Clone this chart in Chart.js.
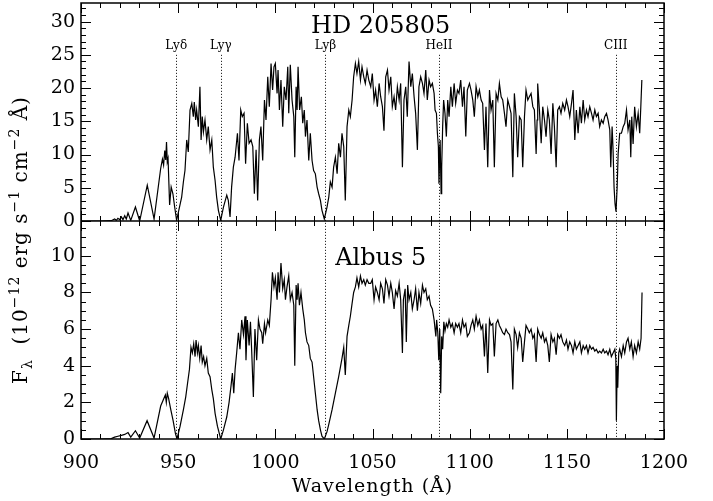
<!DOCTYPE html>
<html>
<head>
<meta charset="utf-8">
<script src="https://cdn.jsdelivr.net/npm/chart.js@4.4.0/dist/chart.umd.min.js"></script>
<style>
  html, body { margin: 0; padding: 0; background: #fff; }
  #wrap { width: 713px; height: 501px; }
</style>
</head>
<body>
<div id="wrap"><canvas id="spec" width="713" height="501"></canvas></div>
<script>
// HD 205805 spectrum, wavelength (A) and flux (1e-12 erg/s/cm2/A)
const hdWave = [
  900, 905, 910, 915.6, 917.3, 918.2, 919.0, 919.9, 920.8, 921.6,
  922.5, 923.3, 924.2, 925.6, 928.0, 930.2, 934.1, 937.6, 941.0, 941.9,
  942.5, 943.1, 943.6, 944.0, 944.4, 944.8, 945.6, 946.4, 947.3, 948.2,
  949.2, 951.8, 952.7, 953.5, 954.4, 955.2, 956.1, 957.0, 957.8, 958.3,
  959.0, 959.5, 960.4, 961.2, 961.8, 962.4, 963.0, 963.8, 964.7, 965.5,
  966.4, 967.3, 968.1, 969.0, 969.8, 970.7, 971.9, 973.3, 975.0, 975.8,
  976.7, 977.5, 978.4, 979.3, 980.5, 981.3, 982.2, 983.0, 983.9, 984.7,
  985.6, 986.5, 987.5, 988.4, 989.2, 990.1, 990.9, 991.8, 992.6, 993.5,
  994.4, 995.2, 996.1, 996.9, 997.8, 998.6, 999.3, 1000.0, 1000.9, 1001.4,
  1002.1, 1002.9, 1003.8, 1004.6, 1005.5, 1006.4, 1006.9, 1007.7, 1008.6, 1009.5,
  1010.0, 1010.7, 1011.2, 1011.7, 1012.5, 1013.4, 1014.1, 1014.9, 1015.5, 1016.3,
  1017.2, 1018.0, 1018.9, 1019.7, 1020.6, 1021.5, 1022.3, 1023.2, 1024.0, 1025.2,
  1026.6, 1027.5, 1028.3, 1029.2, 1030.0, 1030.9, 1031.8, 1032.6, 1033.5, 1034.3,
  1035.2, 1036.0, 1036.9, 1037.8, 1038.6, 1039.5, 1040.3, 1041.2, 1042.0, 1042.9,
  1043.8, 1044.6, 1045.5, 1046.3, 1047.2, 1048.1, 1049.1, 1049.9, 1050.8, 1051.6,
  1052.5, 1053.4, 1054.2, 1055.1, 1055.9, 1056.8, 1057.7, 1058.5, 1059.4, 1060.2,
  1061.1, 1061.9, 1062.8, 1063.7, 1064.5, 1065.4, 1066.2, 1067.1, 1067.9, 1068.8,
  1069.7, 1070.5, 1071.4, 1072.2, 1073.1, 1073.9, 1074.8, 1075.7, 1076.5, 1077.4,
  1078.2, 1079.1, 1079.9, 1080.8, 1081.7, 1082.2, 1082.9, 1083.4, 1083.9, 1084.2,
  1084.8, 1085.3, 1085.6, 1086.1, 1086.6, 1087.3, 1088.0, 1088.7, 1089.4, 1090.3,
  1091.1, 1092.0, 1092.8, 1093.7, 1094.5, 1095.4, 1096.3, 1097.1, 1098.0, 1098.8,
  1099.9, 1100.7, 1101.6, 1102.4, 1103.3, 1104.2, 1105.0, 1105.9, 1106.7, 1107.6,
  1108.4, 1109.3, 1110.2, 1111.0, 1111.9, 1112.7, 1113.6, 1114.5, 1115.3, 1116.2,
  1117.0, 1117.9, 1118.7, 1119.6, 1120.5, 1121.3, 1122.2, 1123.0, 1123.9, 1124.7,
  1125.6, 1126.5, 1127.3, 1128.2, 1129.0, 1129.9, 1130.7, 1131.6, 1132.5, 1133.3,
  1134.2, 1134.7, 1135.0, 1135.9, 1136.8, 1137.6, 1138.5, 1139.3, 1140.2, 1141.0,
  1141.9, 1142.8, 1143.6, 1144.5, 1145.3, 1146.2, 1147.0, 1147.9, 1148.9, 1149.8,
  1150.6, 1151.5, 1152.4, 1153.2, 1154.1, 1154.9, 1155.8, 1156.7, 1157.5, 1158.4,
  1159.2, 1160.1, 1160.9, 1161.8, 1162.7, 1163.5, 1164.4, 1165.2, 1166.1, 1166.9,
  1167.8, 1168.7, 1169.5, 1170.4, 1171.2, 1172.1, 1172.6, 1173.3, 1173.8, 1174.3,
  1174.8, 1175.3, 1175.9, 1176.4, 1177.2, 1178.1, 1179.0, 1179.8, 1180.7, 1181.5,
  1182.4, 1182.9, 1183.4, 1184.1, 1184.9, 1185.8, 1186.7, 1187.5, 1188.0, 1188.6
];
const hdFlux = [
  0, 0, 0, 0.05, 0.3, 0.1, 0.4, 0.2, 0.6, 0.2,
  0.8, 0.3, 1.2, 0.1, 2.1, 0, 5.4, 0.3, 7.9, 9.3,
  8.4, 10.6, 9.2, 11.9, 8.9, 9.4, 2.4, 5.1, 4.1, 2.1,
  0.1, 3.6, 5.9, 7.6, 12.2, 10.4, 16.7, 17.7, 15.7, 17.9,
  15.2, 16.7, 14.2, 20.2, 12.2, 15.7, 13.4, 15.2, 12.2, 14.2,
  10.7, 12.2, 8.1, 6.1, 3.6, 1.6, 0.1, 2.1, 3.9, 3.1,
  0.6, 5.1, 8.1, 9.6, 13.2, 9.1, 16.7, 15.7, 16.2, 8.6,
  14.7, 11.7, 12.2, 11.2, 4.1, 10.7, 3.1, 12.2, 14.2, 9.1,
  18.2, 15.2, 21.7, 17.2, 23.7, 19.7, 23.2, 23.7, 19.2, 22.7,
  16.7, 21.2, 14.2, 20.2, 18.2, 23.2, 16.2, 23.5, 18.2, 15.7,
  9.6, 20.2, 16.7, 23.2, 16.7, 18.7, 14.7, 16.7, 12.7, 15.2,
  9.1, 13.2, 9.1, 7.6, 7.1, 5.1, 4.1, 3.1, 1.6, 0.3,
  2.1, 3.6, 5.9, 5.1, 8.1, 9.6, 7.1, 11.7, 9.6, 13.2,
  11.2, 3.1, 14.2, 16.7, 15.7, 18.2, 21.7, 23.7, 22.2, 24.0,
  21.2, 23.2, 21.7, 20.7, 22.7, 21.2, 20.2, 22.2, 18.2, 19.7,
  17.2, 20.7, 18.7, 17.2, 13.6, 21.7, 22.7, 19.7, 21.7, 17.2,
  18.7, 16.7, 20.2, 18.2, 20.7, 8.1, 18.2, 20.2, 15.7, 24.0,
  20.2, 22.2, 18.7, 16.2, 10.7, 20.2, 21.7, 20.7, 19.2, 22.7,
  18.2, 21.2, 20.2, 20.7, 19.2, 16.7, 16.2, 13.2, 11.2, 5.6,
  12.2, 4.1, 8.1, 14.2, 18.2, 16.2, 12.7, 18.2, 15.7, 20.2,
  17.2, 20.7, 17.7, 19.7, 19.2, 21.2, 17.2, 20.2, 12.7, 19.7,
  20.7, 19.7, 18.2, 15.7, 20.2, 18.7, 19.7, 18.2, 17.7, 10.7,
  17.2, 8.1, 19.7, 16.7, 18.2, 8.1, 19.2, 18.2, 20.7, 18.7,
  18.2, 16.2, 14.2, 18.2, 17.2, 16.2, 6.6, 19.2, 15.7, 9.6,
  15.7, 15.2, 8.1, 15.7, 19.7, 18.2, 18.7, 19.2, 17.2, 16.7,
  10.1, 15.2, 20.7, 16.7, 11.7, 17.2, 15.2, 12.7, 16.7, 15.2,
  10.1, 17.7, 14.2, 8.1, 16.7, 17.2, 16.2, 17.7, 16.7, 18.2,
  17.2, 15.7, 17.7, 19.7, 12.2, 16.7, 13.2, 17.2, 14.7, 18.2,
  15.2, 16.7, 15.7, 17.2, 16.2, 15.2, 16.7, 15.7, 16.2, 14.2,
  15.2, 14.7, 15.7, 16.2, 15.2, 13.7, 8.1, 14.2, 10.6, 5.1,
  2.6, 1.4, 5.1, 10.1, 13.2, 13.2, 14.2, 14.7, 16.7, 13.7,
  15.2, 9.6, 15.7, 11.6, 17.2, 14.2, 16.2, 13.2, 16.7, 21.2
];

// Albus 5 spectrum
const alWave = [
  900, 905, 910, 915.6, 917.3, 919.0, 920.8, 922.5, 924.2, 925.6,
  928.0, 930.2, 934.0, 937.6, 941.0, 942.2, 943.4, 943.9, 944.4, 945.1,
  946.2, 947.4, 948.6, 949.4, 951.0, 952.7, 953.9, 954.9, 955.8, 956.6,
  957.3, 958.0, 958.7, 959.2, 959.9, 960.4, 961.1, 961.8, 962.4, 963.1,
  963.8, 964.7, 965.5, 966.4, 967.3, 968.1, 969.0, 970.2, 971.9, 973.3,
  975.0, 976.2, 977.2, 977.9, 978.6, 979.3, 980.1, 981.0, 981.8, 982.7,
  983.6, 984.4, 984.9, 985.6, 986.5, 987.2, 987.8, 988.7, 989.5, 990.4,
  991.3, 992.1, 993.0, 993.5, 994.4, 995.0, 996.1, 996.9, 997.8, 998.5,
  999.3, 1000.0, 1000.9, 1001.4, 1002.1, 1002.9, 1003.8, 1004.6, 1005.2, 1006.0,
  1006.9, 1007.7, 1008.6, 1009.5, 1010.0, 1010.7, 1011.2, 1011.7, 1012.4, 1013.2,
  1014.1, 1014.9, 1015.5, 1016.3, 1017.2, 1018.0, 1018.9, 1019.7, 1020.6, 1021.5,
  1022.3, 1023.2, 1024.0, 1025.2, 1026.6, 1027.5, 1029.2, 1030.9, 1032.6, 1034.3,
  1035.2, 1036.0, 1036.9, 1037.8, 1038.6, 1039.5, 1040.3, 1041.2, 1042.0, 1042.9,
  1043.8, 1044.6, 1045.5, 1046.3, 1047.2, 1048.1, 1049.1, 1049.9, 1050.8, 1051.6,
  1052.5, 1053.4, 1054.2, 1055.1, 1055.9, 1056.8, 1057.7, 1058.5, 1059.4, 1060.2,
  1061.1, 1061.9, 1062.8, 1063.7, 1064.5, 1065.4, 1065.9, 1066.8, 1067.4, 1068.1,
  1068.8, 1069.7, 1070.5, 1071.4, 1072.2, 1073.1, 1073.9, 1074.8, 1075.7, 1076.5,
  1077.4, 1078.2, 1079.1, 1079.9, 1080.8, 1081.7, 1082.6, 1083.0, 1083.6, 1084.1,
  1084.6, 1085.1, 1085.6, 1086.1, 1086.7, 1087.3, 1088.0, 1088.7, 1089.4, 1090.3,
  1091.1, 1092.0, 1092.8, 1093.7, 1094.5, 1095.4, 1096.3, 1097.1, 1098.0, 1098.8,
  1099.9, 1100.7, 1101.6, 1102.4, 1103.3, 1104.2, 1105.0, 1105.9, 1106.7, 1107.6,
  1108.4, 1109.3, 1110.2, 1111.0, 1111.9, 1112.7, 1113.6, 1114.5, 1115.3, 1116.2,
  1117.0, 1117.9, 1118.7, 1119.6, 1120.5, 1121.3, 1122.2, 1123.0, 1123.9, 1124.7,
  1125.6, 1126.5, 1127.3, 1128.2, 1129.0, 1129.9, 1130.7, 1131.6, 1132.5, 1133.3,
  1134.2, 1135.0, 1135.9, 1136.8, 1137.6, 1138.5, 1139.3, 1140.2, 1141.0, 1141.9,
  1142.8, 1143.6, 1144.5, 1145.3, 1146.2, 1147.0, 1147.9, 1148.9, 1149.8, 1150.6,
  1151.5, 1152.4, 1153.2, 1154.1, 1154.9, 1155.8, 1156.7, 1157.5, 1158.4, 1159.2,
  1160.1, 1160.9, 1161.8, 1162.7, 1163.5, 1164.4, 1165.2, 1166.1, 1166.9, 1167.8,
  1168.7, 1169.5, 1170.4, 1171.2, 1172.1, 1172.9, 1173.8, 1174.7, 1175.2, 1175.5,
  1175.9, 1176.2, 1176.7, 1177.2, 1178.1, 1179.0, 1179.8, 1180.7, 1181.5, 1182.4,
  1183.2, 1184.1, 1184.9, 1185.8, 1186.7, 1187.5, 1188.2, 1188.7
];
const alFlux = [
  0, 0, 0, 0.02, 0.1, 0.15, 0.2, 0.25, 0.35, 0.1,
  0.45, 0.05, 1.0, 0.05, 1.8, 2.1, 2.4, 2.0, 2.5, 2.2,
  1.6, 1.0, 0.3, 0, 0.7, 1.6, 2.3, 3.1, 3.8, 5.0,
  4.7, 5.2, 4.5, 5.4, 4.7, 5.1, 4.4, 5.1, 4.2, 4.5,
  4.0, 4.4, 3.6, 3.4, 2.7, 2.2, 1.4, 0.7, 0, 0.5,
  1.2, 2.0, 2.9, 3.6, 2.5, 3.8, 4.7, 5.8, 4.9, 6.5,
  5.7, 6.7, 4.3, 6.5, 5.1, 6.4, 4.9, 2.3, 6.0, 4.3,
  6.5, 6.0, 5.8, 5.2, 6.3, 5.8, 6.5, 6.2, 7.6, 9.1,
  8.3, 8.8, 7.6, 9.1, 8.0, 9.6, 8.2, 8.7, 7.6, 8.3,
  8.9, 7.6, 8.0, 7.3, 4.0, 8.4, 7.6, 8.5, 7.3, 8.0,
  7.1, 6.5, 5.8, 5.3, 5.1, 4.4, 4.2, 3.4, 2.5, 1.6,
  1.0, 0.5, 0.15, 0, 0.4, 0.8, 1.6, 2.5, 3.4, 4.4,
  5.0, 3.5, 5.6, 6.2, 6.7, 7.4, 8.0, 8.3, 8.8, 8.3,
  8.9, 8.5, 8.7, 8.4, 8.7, 8.5, 8.5, 8.7, 7.6, 8.3,
  8.0, 7.6, 8.5, 8.2, 7.4, 8.7, 8.4, 7.8, 8.5, 8.0,
  7.1, 8.1, 7.8, 8.5, 7.6, 4.7, 7.6, 8.2, 5.3, 8.4,
  7.6, 8.0, 7.1, 7.6, 8.2, 7.0, 8.0, 7.4, 8.4, 8.0,
  8.2, 7.6, 7.8, 7.3, 7.1, 6.5, 5.6, 6.5, 5.8, 4.3,
  6.0, 2.5, 5.6, 4.9, 6.4, 5.9, 6.3, 6.1, 6.5, 6.1,
  6.3, 5.8, 6.3, 6.1, 6.3, 5.8, 6.5, 6.1, 6.3, 5.6,
  5.8, 6.2, 6.5, 6.0, 6.7, 6.2, 6.5, 6.0, 6.2, 4.5,
  6.3, 3.6, 6.5, 6.2, 6.3, 4.5, 6.3, 6.5, 6.2, 6.0,
  5.8, 5.7, 6.0, 5.8, 5.7, 5.3, 2.7, 6.0, 5.7, 5.0,
  5.8, 5.5, 4.2, 5.3, 6.2, 6.0, 5.8, 6.0, 5.5, 5.7,
  4.2, 6.0, 5.7, 5.5, 5.8, 5.3, 5.5, 5.1, 4.2, 5.7,
  5.3, 5.5, 4.6, 5.7, 5.5, 5.7, 5.3, 5.1, 5.4, 4.9,
  5.3, 5.1, 4.7, 5.3, 4.9, 5.1, 5.3, 4.7, 5.1, 4.9,
  5.1, 4.7, 5.1, 4.9, 5.0, 4.8, 4.9, 4.7, 4.8, 4.7,
  4.9, 4.7, 4.8, 4.6, 4.9, 4.5, 4.7, 4.9, 4.4, 1.0,
  4.0, 2.8, 4.7, 4.9, 4.5, 5.1, 4.7, 5.3, 5.5, 4.9,
  5.3, 4.5, 5.1, 4.7, 5.3, 4.9, 5.5, 8.0
];

const xTicks = [900, 950, 1000, 1050, 1100, 1150, 1200];
const topTicks = [0, 5, 10, 15, 20, 25, 30];
const botTicks = [0, 2, 4, 6, 8, 10];
const lineNames = ['Ly\u03B4', 'Ly\u03B3', 'Ly\u03B2', 'HeII', 'CIII'];
const lineWave = [949.0, 972.0, 1025.8, 1084.2, 1175.2];

console.assert(hdWave.length === hdFlux.length, 'hd lengths', hdWave.length, hdFlux.length);
console.assert(alWave.length === alFlux.length, 'albus lengths', alWave.length, alFlux.length);

const FONT = 'DejaVu Serif';

function toXY(w, f) {
  return w.map((x, i) => ({ x: x, y: f[i] }));
}

function range(a, b, step) {
  const out = [];
  for (let v = a; v <= b + 1e-9; v += step) out.push(+v.toFixed(3));
  return out;
}

// IDL-like frame: inward ticks on all sides, dotted line markers, labels
const idlFrame = {
  id: 'idlFrame',
  beforeDatasetsDraw(chart) {
    const c = chart.ctx, a = chart.chartArea;
    const x = chart.scales.x, yT = chart.scales.yTop;
    c.save();
    c.strokeStyle = '#000';
    c.lineWidth = 1;
    c.setLineDash([1, 2]);
    lineWave.forEach(w => {
      const px = Math.round(x.getPixelForValue(w)) + 0.5;
      c.beginPath();
      c.moveTo(px, yT.getPixelForValue(25));
      c.lineTo(px, a.bottom);
      c.stroke();
    });
    c.restore();
  },
  afterDraw(chart) {
    const c = chart.ctx, a = chart.chartArea;
    const x = chart.scales.x, yT = chart.scales.yTop, yB = chart.scales.yBot;
    const mid = yT.bottom;
    c.save();
    c.strokeStyle = '#000';
    c.lineWidth = 1.5;
    c.strokeRect(a.left, a.top, a.right - a.left, a.bottom - a.top);
    c.beginPath();
    c.moveTo(a.left, mid);
    c.lineTo(a.right, mid);
    c.stroke();

    c.lineWidth = 1;
    c.beginPath();
    // x ticks on top, middle (both panels) and bottom
    range(900, 1200, 10).forEach(v => {
      const len = xTicks.includes(v) ? 10 : 5;
      const px = Math.round(x.getPixelForValue(v)) + 0.5;
      c.moveTo(px, a.top); c.lineTo(px, a.top + len);
      c.moveTo(px, mid); c.lineTo(px, mid - len);
      c.moveTo(px, mid); c.lineTo(px, mid + len);
      c.moveTo(px, a.bottom); c.lineTo(px, a.bottom - len);
    });
    // y ticks, left and right
    const yTick = (scale, v, len) => {
      const py = Math.round(scale.getPixelForValue(v)) + 0.5;
      c.moveTo(a.left, py); c.lineTo(a.left + len, py);
      c.moveTo(a.right, py); c.lineTo(a.right - len, py);
    };
    range(0, 32, 1).forEach(v => yTick(yT, v, topTicks.includes(v) ? 10 : 5));
    range(0, 11.5, 0.5).forEach(v => yTick(yB, v, botTicks.includes(v) ? 10 : 5));
    c.stroke();

    // line identifications
    c.fillStyle = '#000';
    c.textAlign = 'center';
    c.textBaseline = 'alphabetic';
    c.font = '12px "' + FONT + '"';
    lineNames.forEach((n, i) => {
      c.fillText(n, x.getPixelForValue(lineWave[i]), yT.getPixelForValue(25) - 6);
    });

    // star names
    c.font = '24px "' + FONT + '"';
    c.fillText('HD 205805', x.getPixelForValue(1054.2), yT.getPixelForValue(28.3));
    c.fillText('Albus 5', x.getPixelForValue(1054.2), yB.getPixelForValue(9.5));

    // x title
    c.font = '19px "' + FONT + '"';
    c.letterSpacing = '1px';
    c.fillText('Wavelength (\u00C5)', (a.left + a.right) / 2, 492);

    // y title with sub/superscripts, rotated
    const parts = [
      ['F', 20, 0], ['\u03BB', 14, 5], ['  (10', 20, 0], ['\u221212', 14, -8],
      [' erg s', 20, 0], ['\u22121', 14, -8], [' cm', 20, 0], ['\u22122', 14, -8],
      [' \u00C5)', 20, 0]
    ];
    let total = 0;
    parts.forEach(p => { c.font = p[1] + 'px "' + FONT + '"'; total += c.measureText(p[0]).width; });
    c.translate(27, (yT.top + yB.bottom) / 2 + 19);
    c.rotate(-Math.PI / 2);
    c.textAlign = 'left';
    let pos = -total / 2;
    parts.forEach(p => {
      c.font = p[1] + 'px "' + FONT + '"';
      c.fillText(p[0], pos, p[2]);
      pos += c.measureText(p[0]).width;
    });
    c.letterSpacing = '0px';
    c.restore();
  }
};

const tickFont = { family: FONT, size: 19 };

// drop the half-label padding Chart.js reserves above/below the y axes
function fitY(s) {
  s.width = 81;
  s.paddingTop = 0;
  s.paddingBottom = 0;
}

new Chart(document.getElementById('spec'), {
  type: 'line',
  data: {
    datasets: [
      { label: 'HD 205805', data: toXY(hdWave, hdFlux), yAxisID: 'yTop',
        borderColor: '#000', borderWidth: 1.2, pointRadius: 0, tension: 0, fill: false },
      { label: 'Albus 5', data: toXY(alWave, alFlux), yAxisID: 'yBot',
        borderColor: '#000', borderWidth: 1.2, pointRadius: 0, tension: 0, fill: false }
    ]
  },
  options: {
    responsive: false,
    animation: false,
    layout: { padding: { top: 3, right: 49, left: 0, bottom: 0 } },
    plugins: { legend: { display: false }, tooltip: { enabled: false } },
    scales: {
      x: {
        type: 'linear', position: 'bottom', min: 900, max: 1200,
        grid: { display: false, drawTicks: false }, border: { display: false },
        afterBuildTicks: s => { s.ticks = xTicks.map(v => ({ value: v })); },
        afterFit: s => { s.height = 62; },
        ticks: { font: tickFont, color: '#000', padding: 13, maxRotation: 0, autoSkip: false,
                 callback: v => String(v) }
      },
      // the first axis of a stack goes to the bottom
      yBot: {
        type: 'linear', position: 'left', stack: 'flux', stackWeight: 1, min: 0, max: 11.9,
        grid: { display: false, drawTicks: false }, border: { display: false },
        afterBuildTicks: s => { s.ticks = botTicks.map(v => ({ value: v })); },
        afterFit: fitY,
        ticks: { font: tickFont, color: '#000', padding: 6, autoSkip: false, callback: v => String(v) }
      },
      yTop: {
        type: 'linear', position: 'left', stack: 'flux', stackWeight: 1, min: 0, max: 32.8,
        grid: { display: false, drawTicks: false }, border: { display: false },
        afterBuildTicks: s => { s.ticks = topTicks.map(v => ({ value: v })); },
        afterFit: fitY,
        ticks: { font: tickFont, color: '#000', padding: 6, autoSkip: false, callback: v => String(v) }
      }
    }
  },
  plugins: [idlFrame]
});
</script>
</body>
</html>
